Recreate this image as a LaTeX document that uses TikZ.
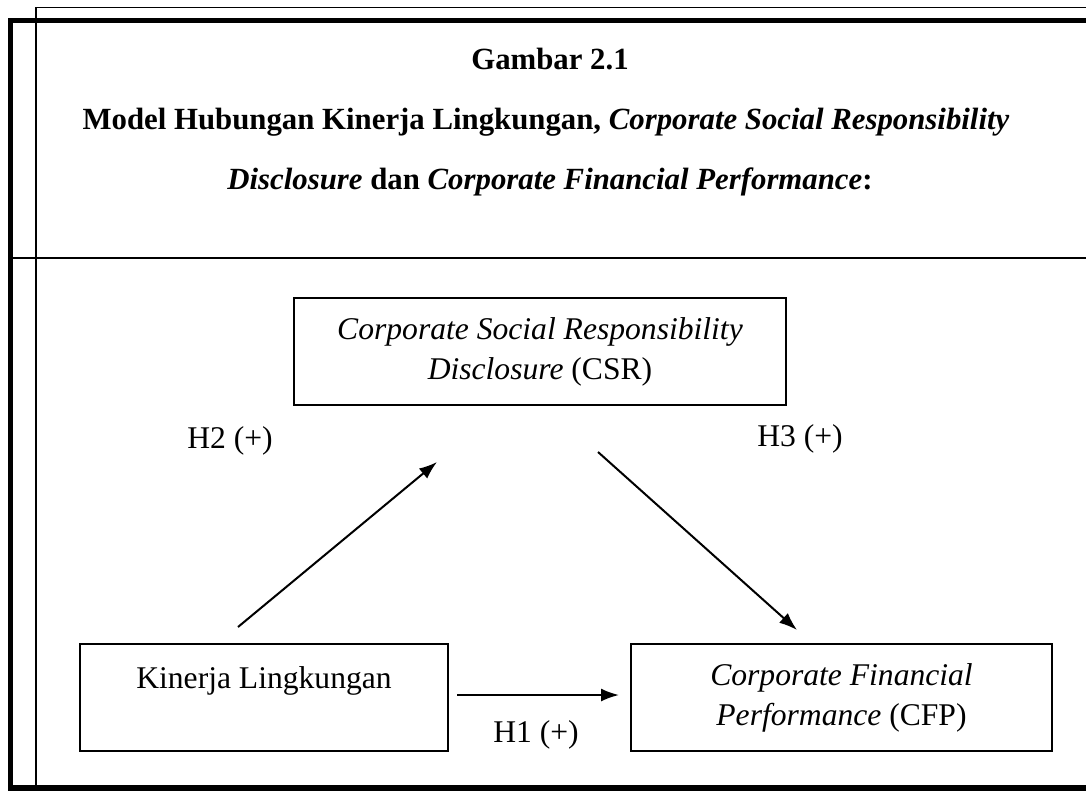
\documentclass[tikz,border=0pt]{standalone}
\usepackage{fontspec}
\setmainfont{Liberation Serif}
\usetikzlibrary{arrows.meta,positioning}
\tikzset{
	thinrule/.style={draw=black, line width=0.75pt},
	thickrule/.style={draw=black, line width=2.8pt},
	varbox/.style={draw=black, line width=0.9pt, minimum height=53.5pt, inner sep=0pt,
		align=center, font=\fontsize{15.8}{20}\selectfont},
	hyparrow/.style={draw=black, line width=1pt, -{Latex[length=9pt,width=6.5pt]}},
	hyplabel/.style={anchor=base, inner sep=0pt, font=\fontsize{15.8}{20}\selectfont},
	titleline/.style={anchor=base, inner sep=0pt, font=\bfseries\fontsize{15.4}{20}\selectfont},
}

\begin{document}
\begin{tikzpicture}[x=0.5pt, y=-0.5pt]
		\useasboundingbox (0,0) rectangle (1086,791);
		% frame
		\draw[thinrule] (36,7.5) -- (1086,7.5);
		\draw[thinrule] (36,7.5) -- (36,786);
		\draw[thinrule] (13,258) -- (1086,258);
		\draw[thickrule] (1086,20.5) -- (10.5,20.5) -- (10.5,788) -- (1086,788);
		% title
		\node[titleline] (gambar) at (550,70) {Gambar 2.1};
		\node[titleline] (judula) at (546,130) {Model Hubungan Kinerja Lingkungan, \textit{Corporate Social Responsibility}};
		\node[titleline] (judulb) at (550,190) {\textit{Disclosure} dan \textit{Corporate Financial Performance}:};
		% variables
		\node[varbox, minimum width=246pt] (csr) at (540,351.5)
			{\textit{Corporate Social Responsibility}\\\textit{Disclosure} (CSR)};
		\node[varbox, minimum width=184pt, text height=10.8pt, text depth=20.3pt] (kin) at (264,697.5)
			{Kinerja Lingkungan};
		\node[varbox, minimum width=210.5pt] (cfp) at (841.5,697.5)
			{\textit{Corporate Financial}\\\textit{Performance} (CFP)};
		% arrow ends
		\coordinate (h1s) at (457,695);
		\coordinate (h1e) at (619,695);
		\coordinate (h2s) at (238,627);
		\coordinate (h2e) at (437,462);
		\coordinate (h3s) at (598,452);
		\coordinate (h3e) at (797,630);
		\draw[hyparrow] (h1s) -- (h1e);
		\draw[hyparrow] (h2s) -- (h2e);
		\draw[hyparrow] (h3s) -- (h3e);
		% hypotheses
		\node[hyplabel] (h1) at (536,742) {H1 (+)};
		\node[hyplabel] (h2) at (230,448) {H2 (+)};
		\node[hyplabel] (h3) at (800,446) {H3 (+)};
\end{tikzpicture}
\end{document}
